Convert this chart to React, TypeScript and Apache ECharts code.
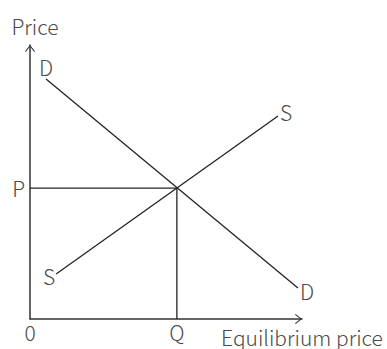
import React, { useEffect, useRef } from "react";
import * as echarts from "echarts";

// Curve endpoints in (quantity, price) units
const demandCurve: [number, number][] = [[0.59, 8.76], [9.85, 1.13]];
const supplyCurve: [number, number][] = [[0.96, 1.64], [9.12, 7.41]];
const equilibrium: [number, number] = [5.4, 4.78];
const demandLabels = ["D", "D"];
const supplyLabels = ["S", "S"];
const xTickLabels = ["0", "Q"];
const yTickLabels = ["", "P"];
const axisNames = { x: "Equilibrium price", y: "Price" };
const axisMax = [10, 10];

const FONT = "'Noto Sans CJK SC', 'Noto Sans', sans-serif";
const TEXT_COLOR = "#4a4a4a";
const LINE_COLOR = "#222";
const ARROW = "path://M5,0 L10,6.3 L9.2,7 L5,1.6 L0.8,7 L0,6.3 Z";

export default function App() {
  const ref = useRef<HTMLDivElement>(null);
  useEffect(() => {
    if (!ref.current) return;
    const chart = echarts.init(ref.current, null, { renderer: "svg" });
    const labelStyle = {
      fontFamily: FONT,
      fontWeight: 300 as any,
      fontSize: 21,
      color: TEXT_COLOR,
    };
    const near = (a: number, b: number) => Math.abs(a - b) < 1e-6;
    const mkCurve = (pts: [number, number][], names: string[], pos: any[]) =>
      pts.map((p, i) => ({
        value: p,
        label: { show: true, formatter: names[i], ...labelStyle, ...pos[i] },
      }));
    const axisLineStyle = {
      show: true,
      symbol: ["none", ARROW],
      symbolSize: [10, 7],
      symbolOffset: [0, -3.5],
      lineStyle: { color: "#333", width: 1.5 },
    };
    chart.setOption({
      animation: false,
      grid: { left: 30, top: 45, width: 272, height: 274, containLabel: false },
      xAxis: {
        type: "value",
        min: 0,
        max: axisMax[0],
        interval: equilibrium[0],
        axisLine: axisLineStyle,
        axisTick: { show: false },
        splitLine: { show: false },
        axisLabel: {
          ...labelStyle,
          margin: 2,
          showMaxLabel: false,
          formatter: (v: number) =>
            near(v, 0) ? xTickLabels[0] : near(v, equilibrium[0]) ? xTickLabels[1] : "",
        },
        name: axisNames.x,
        nameLocation: "end",
        nameGap: 0,
        nameTextStyle: { ...labelStyle, align: "center", verticalAlign: "top", padding: [8, 0, 0, 0] },
      },
      yAxis: {
        type: "value",
        min: 0,
        max: axisMax[1],
        interval: equilibrium[1],
        axisLine: axisLineStyle,
        axisTick: { show: false },
        splitLine: { show: false },
        axisLabel: {
          ...labelStyle,
          margin: 5,
          showMaxLabel: false,
          formatter: (v: number) =>
            near(v, 0) ? yTickLabels[0] : near(v, equilibrium[1]) ? yTickLabels[1] : "",
        },
        name: axisNames.y,
        nameLocation: "end",
        nameGap: 9,
        nameTextStyle: { ...labelStyle, padding: [0, 0, 0, 10] },
      },
      series: [
        {
          type: "line",
          data: mkCurve(demandCurve, demandLabels, [
            { position: "top", distance: 1 },
            { position: "right", distance: 2, offset: [0, 3] },
          ]),
          symbol: "circle",
          symbolSize: 0.01,
          lineStyle: { color: LINE_COLOR, width: 1.3 },
          itemStyle: { color: LINE_COLOR },
        },
        {
          type: "line",
          data: mkCurve(supplyCurve, supplyLabels, [
            { position: "left", distance: 1, offset: [0, 1.5] },
            { position: "right", distance: 2, offset: [0, -4] },
          ]),
          symbol: "circle",
          symbolSize: 0.01,
          lineStyle: { color: LINE_COLOR, width: 1.3 },
          itemStyle: { color: LINE_COLOR },
        },
        {
          type: "line",
          data: [[0, equilibrium[1]], equilibrium],
          showSymbol: false,
          lineStyle: { color: LINE_COLOR, width: 1.3 },
        },
        {
          type: "line",
          data: [[equilibrium[0], 0], equilibrium],
          showSymbol: false,
          lineStyle: { color: LINE_COLOR, width: 1.3 },
        },
      ],
    });
    return () => chart.dispose();
  }, []);
  return (
    <div
      ref={ref}
      style={{ position: "fixed", left: 0, top: 0, width: 387, height: 349, background: "#fff" }}
    />
  );
}
